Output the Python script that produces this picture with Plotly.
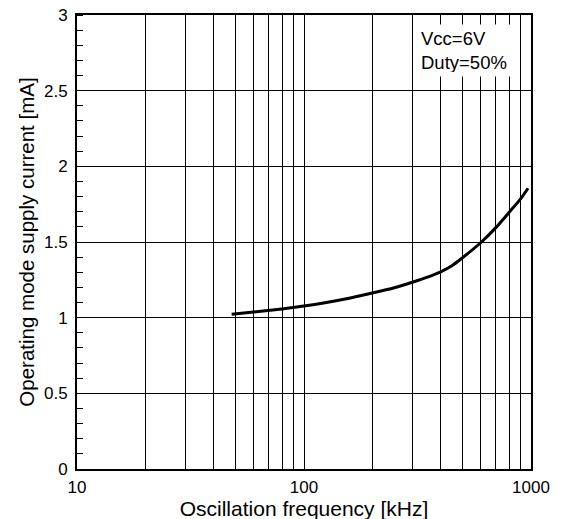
import plotly.graph_objects as go

# Curve data
freq_khz = [48, 60, 80, 100, 150, 200, 250, 300, 350, 400, 450, 500, 600, 700, 800, 900, 970]
current_ma = [1.022, 1.037, 1.058, 1.077, 1.122, 1.163, 1.198, 1.234, 1.268, 1.303, 1.345, 1.397, 1.495, 1.595, 1.695, 1.785, 1.855]

x_tickvals = [10, 20, 30, 40, 50, 60, 70, 80, 90, 100, 200, 300, 400, 500, 600, 700, 800, 900, 1000]
x_ticktext = ["10", "", "", "", "", "", "", "", "", "100", "", "", "", "", "", "", "", "", "1000"]
y_tickvals = [0, 0.5, 1, 1.5, 2, 2.5, 3]
y_ticktext = ["0", "0.5", "1", "1.5", "2", "2.5", "3"]

note_text = "Vcc=6V<br>Duty=50%"

FONT = "Liberation Sans, Arial, sans-serif"

fig = go.Figure()
fig.add_trace(go.Scatter(
    x=freq_khz, y=current_ma, mode="lines",
    line=dict(color="black", width=3, shape="spline", smoothing=0.8),
    showlegend=False, hoverinfo="skip", cliponaxis=False,
))

# the page adds an 8px body margin; margins below compensate for it
fig.update_layout(
    width=566, height=519,
    margin=dict(l=69, r=43, t=7, b=58),
    paper_bgcolor="white", plot_bgcolor="white",
    font=dict(family=FONT, size=17, color="black"),
    showlegend=False,
)

fig.update_xaxes(
    type="log", range=[1, 3], automargin=False,
    tickmode="array", tickvals=x_tickvals, ticktext=x_ticktext,
    showgrid=True, gridcolor="black", gridwidth=1,
    showline=True, linecolor="black", linewidth=2, mirror=True,
    ticks="", ticklabelstandoff=2, ticklabeloverflow="allow",
    tickfont=dict(size=17),
    title=dict(text="Oscillation frequency [kHz]", font=dict(size=21), standoff=3),
    zeroline=False,
)
fig.update_yaxes(
    range=[0, 3], automargin=False,
    tickmode="array", tickvals=y_tickvals, ticktext=y_ticktext,
    showgrid=True, gridcolor="black", gridwidth=1,
    showline=True, linecolor="black", linewidth=2, mirror=True,
    ticks="", ticklabelstandoff=4, ticklabeloverflow="allow",
    tickfont=dict(size=17),
    minor=dict(dtick=0.1, tick0=0, ticks="inside", ticklen=6, tickcolor="black", tickwidth=1, showgrid=False),
    title=dict(text="Operating mode supply current [mA]", font=dict(size=20.5), standoff=4),
    zeroline=False,
)

fig.add_annotation(
    xref="paper", yref="paper", x=0.8546, y=0.9218,
    xanchor="center", yanchor="middle",
    text=note_text, showarrow=False, align="left",
    width=88, height=43, bgcolor="white", borderpad=4,
    font=dict(family=FONT, size=18.5, color="black"),
)

fig.write_html("out.html")
